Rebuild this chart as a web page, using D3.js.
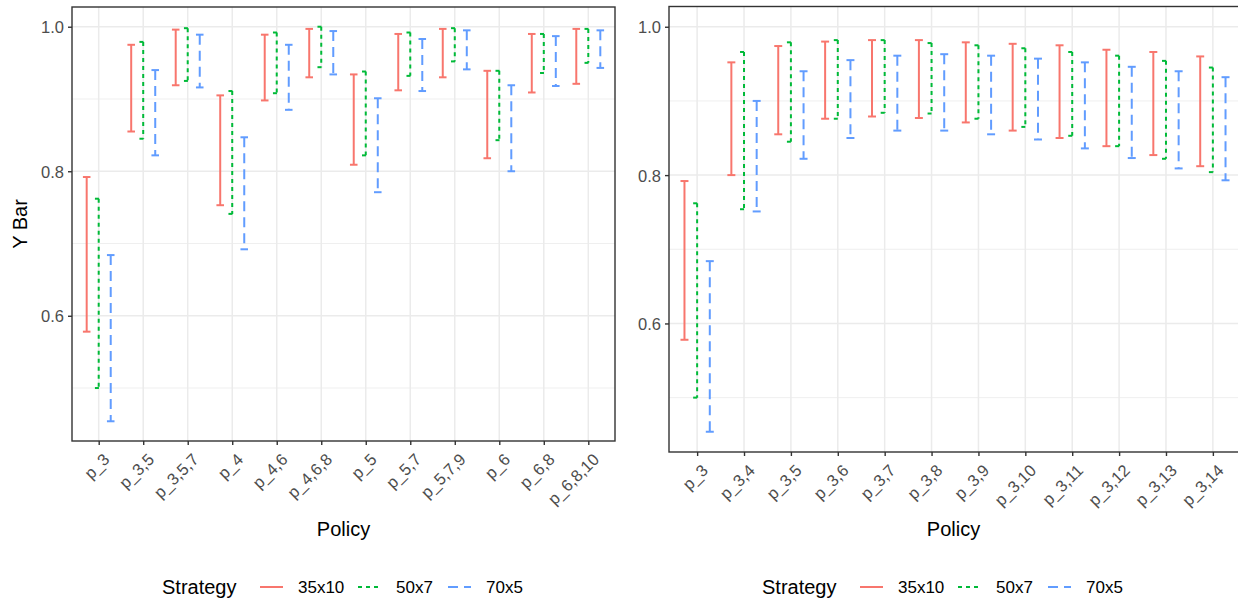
<!DOCTYPE html>
<html>
<head>
  <title>Y Bar by Policy and Strategy</title>
  <script src="https://d3js.org/d3.v7.min.js"></script>
  <style>
    body {
      margin: 0;
      background: #ffffff;
      font-family: 'Liberation Sans', Arial, sans-serif;
    }
    .tick text {
      fill: #4d4d4d;
      font-size: 16.5px;
      font-family: 'Liberation Sans', Arial, sans-serif;
    }
    .tick line, .domain {
      stroke: #333333;
    }
    .axis-title {
      font-size: 20px;
      fill: #000;
    }
    .legend-label {
      font-size: 17px;
      fill: #000;
    }
  </style>
</head>
<body>
  <svg id="chart" width="1238" height="600"></svg>

  <script>
    // ---- data ----
    const strategies = ["35x10", "50x7", "70x5"];

    const leftPolicies = ["p_3", "p_3,5", "p_3,5,7", "p_4", "p_4,6", "p_4,6,8",
                          "p_5", "p_5,7", "p_5,7,9", "p_6", "p_6,8", "p_6,8,10"];
    const left35x10Lo = [0.578, 0.855, 0.919, 0.753, 0.898, 0.930, 0.809, 0.912, 0.930, 0.818, 0.909, 0.921];
    const left35x10Hi = [0.792, 0.975, 0.996, 0.905, 0.989, 0.997, 0.934, 0.990, 0.997, 0.939, 0.990, 0.997];
    const left50x7Lo  = [0.500, 0.845, 0.925, 0.741, 0.908, 0.944, 0.822, 0.932, 0.952, 0.843, 0.936, 0.950];
    const left50x7Hi  = [0.762, 0.979, 0.998, 0.911, 0.992, 1.000, 0.938, 0.992, 0.998, 0.939, 0.990, 0.997];
    const left70x5Lo  = [0.454, 0.822, 0.916, 0.692, 0.885, 0.934, 0.771, 0.911, 0.941, 0.800, 0.918, 0.943];
    const left70x5Hi  = [0.684, 0.940, 0.989, 0.847, 0.975, 0.994, 0.901, 0.983, 0.995, 0.919, 0.987, 0.995];

    const rightPolicies = ["p_3", "p_3,4", "p_3,5", "p_3,6", "p_3,7", "p_3,8",
                           "p_3,9", "p_3,10", "p_3,11", "p_3,12", "p_3,13", "p_3,14"];
    const right35x10Lo = [0.578, 0.800, 0.855, 0.876, 0.879, 0.877, 0.871, 0.860, 0.850, 0.839, 0.827, 0.812];
    const right35x10Hi = [0.792, 0.952, 0.974, 0.980, 0.982, 0.982, 0.979, 0.977, 0.975, 0.969, 0.966, 0.960];
    const right50x7Lo  = [0.500, 0.754, 0.845, 0.876, 0.884, 0.883, 0.876, 0.865, 0.853, 0.839, 0.822, 0.804];
    const right50x7Hi  = [0.762, 0.966, 0.979, 0.982, 0.982, 0.978, 0.975, 0.971, 0.966, 0.961, 0.954, 0.945];
    const right70x5Lo  = [0.454, 0.751, 0.822, 0.850, 0.860, 0.860, 0.855, 0.848, 0.836, 0.823, 0.809, 0.793];
    const right70x5Hi  = [0.684, 0.900, 0.940, 0.955, 0.961, 0.963, 0.961, 0.957, 0.952, 0.946, 0.940, 0.932];

    const yTicks = [0.6, 0.8, 1.0];
    const yMinor = [0.5, 0.7, 0.9];

    // ---- styles per strategy ----
    const colors = { "35x10": "#F8766D", "50x7": "#00BA38", "70x5": "#619CFF" };
    const dashes = { "35x10": null, "50x7": "4,4", "70x5": "10,6" };

    function rows(policies, los, his) {
      const out = [];
      strategies.forEach((s, si) => {
        policies.forEach((p, i) => {
          out.push({ policy: p, strategy: s, si: si, lo: los[si][i], hi: his[si][i] });
        });
      });
      return out;
    }

    const leftData = rows(leftPolicies,
      [left35x10Lo, left50x7Lo, left70x5Lo], [left35x10Hi, left50x7Hi, left70x5Hi]);
    const rightData = rows(rightPolicies,
      [right35x10Lo, right50x7Lo, right70x5Lo], [right35x10Hi, right50x7Hi, right70x5Hi]);

    // shared y range, ggplot-style 5% expansion
    const allVals = leftData.concat(rightData).flatMap(d => [d.lo, d.hi]);
    const yMin = d3.min(allVals), yMax = d3.max(allVals);
    const yPad = (yMax - yMin) * 0.05;

    const svg = d3.select("#chart");

    function drawPanel(cfg) {
      const { left, right, top, bottom, policies, data, yTitle, titleX } = cfg;
      const g = svg.append("g");

      const x = d3.scalePoint().domain(policies).range([left, right]).padding(0.6);
      const y = d3.scaleLinear().domain([yMin - yPad, yMax + yPad]).range([bottom, top]);
      const step = x.step();
      const dodge = step * 0.27;
      const capHalf = step * 0.085;

      // grid
      g.selectAll(".minor").data(yMinor).enter().append("line")
        .attr("x1", left).attr("x2", right)
        .attr("y1", d => y(d)).attr("y2", d => y(d))
        .attr("stroke", "#ebebeb").attr("stroke-width", 0.8);
      g.selectAll(".major").data(yTicks).enter().append("line")
        .attr("x1", left).attr("x2", right)
        .attr("y1", d => y(d)).attr("y2", d => y(d))
        .attr("stroke", "#ebebeb").attr("stroke-width", 1.5);
      g.selectAll(".vgrid").data(policies).enter().append("line")
        .attr("x1", d => x(d)).attr("x2", d => x(d))
        .attr("y1", top).attr("y2", bottom)
        .attr("stroke", "#ebebeb").attr("stroke-width", 1.5);

      // error bars: top cap, stem, bottom cap drawn as separate segments
      const bars = g.selectAll(".bar").data(data).enter().append("g")
        .attr("stroke", d => colors[d.strategy])
        .attr("stroke-width", 2)
        .attr("stroke-dasharray", d => dashes[d.strategy])
        .attr("fill", "none");

      const cx = d => x(d.policy) + (d.si - 1) * dodge;
      bars.append("line")
        .attr("x1", d => cx(d) - capHalf).attr("x2", d => cx(d) + capHalf)
        .attr("y1", d => y(d.hi)).attr("y2", d => y(d.hi));
      bars.append("line")
        .attr("x1", cx).attr("x2", cx)
        .attr("y1", d => y(d.hi)).attr("y2", d => y(d.lo));
      bars.append("line")
        .attr("x1", d => cx(d) - capHalf).attr("x2", d => cx(d) + capHalf)
        .attr("y1", d => y(d.lo)).attr("y2", d => y(d.lo));

      // border
      g.append("rect")
        .attr("x", left).attr("y", top)
        .attr("width", right - left).attr("height", bottom - top)
        .attr("fill", "none").attr("stroke", "#333").attr("stroke-width", 1.4);

      // axes
      const yAxis = g.append("g")
        .attr("transform", `translate(${left},0)`)
        .call(d3.axisLeft(y).tickValues(yTicks).tickFormat(d3.format(".1f")).tickSize(4).tickPadding(4));
      yAxis.select(".domain").remove();
      yAxis.selectAll(".tick line").attr("stroke-width", 1.4);
      yAxis.selectAll(".tick text").attr("dy", "0.36em");

      const xAxis = g.append("g")
        .attr("transform", `translate(0,${bottom})`)
        .call(d3.axisBottom(x).tickSize(4).tickPadding(0));
      xAxis.select(".domain").remove();
      xAxis.selectAll(".tick line").attr("stroke-width", 1.4);
      xAxis.selectAll(".tick text")
        .attr("text-anchor", "end")
        .attr("dy", "0.72em")
        .attr("y", 0)
        .attr("transform", "translate(3,11) rotate(-45)");

      // titles
      g.append("text")
        .attr("class", "axis-title")
        .attr("x", (left + titleX) / 2)
        .attr("y", 536)
        .attr("text-anchor", "middle")
        .text("Policy");

      if (yTitle) {
        g.append("text")
          .attr("class", "axis-title")
          .attr("transform", `translate(27,${(top + bottom) / 2}) rotate(-90)`)
          .attr("text-anchor", "middle")
          .text(yTitle);
      }
    }

    drawPanel({ left: 72, right: 615, top: 7, bottom: 441,
                policies: leftPolicies, data: leftData, yTitle: "Y Bar", titleX: 615 });
    drawPanel({ left: 669, right: 1241, top: 6.5, bottom: 452,
                policies: rightPolicies, data: rightData, yTitle: null, titleX: 1238 });

    // legends
    function drawLegend(x0) {
      const lg = svg.append("g").attr("transform", `translate(${x0},587)`);
      lg.append("text")
        .attr("class", "axis-title")
        .attr("x", 0).attr("y", 7)
        .text("Strategy");
      const offsets = [98, 196, 286];
      strategies.forEach((s, i) => {
        lg.append("line")
          .attr("x1", offsets[i]).attr("x2", offsets[i] + 23)
          .attr("y1", 0).attr("y2", 0)
          .attr("stroke", colors[s])
          .attr("stroke-width", 2)
          .attr("stroke-dasharray", dashes[s]);
        lg.append("text")
          .attr("class", "legend-label")
          .attr("x", offsets[i] + 38).attr("y", 6)
          .text(s);
      });
    }
    drawLegend(162);
    drawLegend(762);
  </script>
</body>
</html>
